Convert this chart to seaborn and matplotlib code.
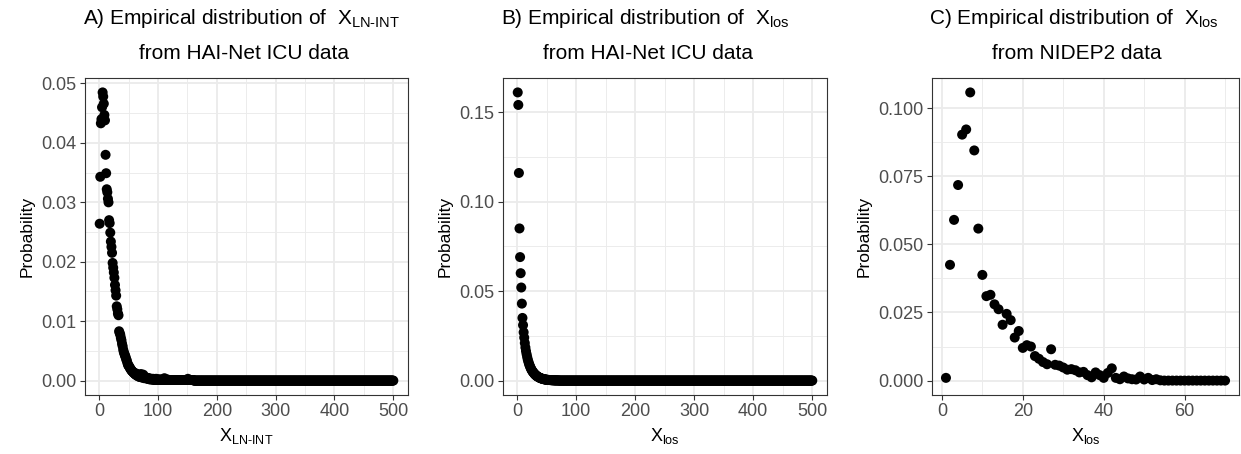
import numpy as np
import pandas as pd
import matplotlib
matplotlib.use("Agg")
import matplotlib.pyplot as plt
import seaborn as sns

# ---------------- data ----------------
# Panel A: empirical distribution of X_LN-INT (HAI-Net ICU), x = 1..500
a_head = [0.0264, 0.0343, 0.0433, 0.0440, 0.0460, 0.0485, 0.0478, 0.0466, 0.0447, 0.0438,
          0.0380, 0.0349, 0.0322, 0.0317, 0.0306, 0.0300, 0.0270, 0.0265, 0.0249, 0.0234,
          0.0225, 0.0215, 0.0198, 0.0190, 0.0182, 0.0173, 0.0161, 0.0152, 0.0143, 0.0125,
          0.0120, 0.0113, 0.0110, 0.0083, 0.0080, 0.0077, 0.0072, 0.0068, 0.0062, 0.0058,
          0.0052, 0.0048, 0.0045, 0.0042, 0.0040, 0.0036, 0.0034, 0.0030, 0.0027, 0.0025,
          0.0024, 0.0022, 0.0020, 0.0019, 0.0017, 0.0016, 0.0015, 0.0014, 0.0013, 0.0012,
          0.0011, 0.0010, 0.0012, 0.0009, 0.0008, 0.0010, 0.0007, 0.0008, 0.0006, 0.0009,
          0.0011, 0.0006, 0.0005, 0.0007, 0.0010, 0.0005, 0.0004, 0.0006, 0.0005, 0.0004,
          0.0005, 0.0003, 0.0004, 0.0003, 0.0004, 0.0002, 0.0003, 0.0002, 0.0003, 0.0002,
          0.0002, 0.0003, 0.0001, 0.0002, 0.0002, 0.0001, 0.0003, 0.0001, 0.0002, 0.0001,
          0.0001, 0.0002, 0.0001, 0.0001, 0.0002, 0.0001, 0.0001, 0.0001, 0.0001, 0.0002,
          0.0004, 0.0001, 0.0001, 0.0001, 0.0001, 0.0002, 0.0001, 0.0001, 0.0001, 0.0001,
          0.0001, 0.0001, 0.0001, 0.0001, 0.0001, 0.0001, 0.0001, 0.0001, 0.0001, 0.0001,
          0.0001, 0.0001, 0.0001, 0.0001, 0.0001, 0.0001, 0.0001, 0.0001, 0.0001, 0.0001,
          0.0001, 0.0001, 0.0001, 0.0001, 0.0001, 0.0001, 0.0001, 0.0001, 0.0001, 0.0001,
          0.0003, 0.0001, 0.0001, 0.0001, 0.0001, 0.0001, 0.0001, 0.0001, 0.0001, 0.0001]
a_tail = [0.0] * 340          # x = 161..500, all read as ~0
a_prob = a_head + a_tail

# Panel B: empirical distribution of X_los (HAI-Net ICU), x = 1..500
b_head = [0.161, 0.154, 0.116, 0.085, 0.069, 0.060, 0.052, 0.043, 0.035, 0.031,
          0.027, 0.024, 0.021, 0.0185, 0.0165, 0.0148, 0.0132, 0.0118, 0.0106, 0.0095,
          0.0086, 0.0078, 0.0070, 0.0063, 0.0057, 0.0052, 0.0047, 0.0043, 0.0039, 0.0035,
          0.0032, 0.0029, 0.0026, 0.0024, 0.0022, 0.0020, 0.0018, 0.0016, 0.0015, 0.0013,
          0.0012, 0.0011, 0.0010, 0.0009, 0.0008, 0.0007, 0.0007, 0.0006, 0.0005, 0.0005,
          0.0004, 0.0004, 0.0004, 0.0003, 0.0003, 0.0003, 0.0003, 0.0002, 0.0002, 0.0002,
          0.0002, 0.0002, 0.0001, 0.0001, 0.0001, 0.0001, 0.0001, 0.0001, 0.0001, 0.0001]
b_tail = [0.0] * 430          # x = 71..500, all read as ~0
b_prob = b_head + b_tail

# Panel C: empirical distribution of X_los (NIDEP2), x = 1..70
c_prob = [0.0010, 0.0425, 0.0590, 0.0718, 0.0903, 0.0922, 0.1058, 0.0845, 0.0558, 0.0388,
          0.0310, 0.0315, 0.0280, 0.0262, 0.0205, 0.0245, 0.0222, 0.0158, 0.0182, 0.0120,
          0.0130, 0.0125, 0.0090, 0.0080, 0.0068, 0.0060, 0.0115, 0.0058, 0.0055, 0.0048,
          0.0040, 0.0042, 0.0038, 0.0030, 0.0032, 0.0020, 0.0012, 0.0030, 0.0020, 0.0010,
          0.0028, 0.0045, 0.0010, 0.0005, 0.0015, 0.0008, 0.0005, 0.0004, 0.0015, 0.0004,
          0.0010, 0.0002, 0.0005, 0.0001, 0.0000, 0.0000, 0.0000, 0.0000, 0.0000, 0.0000,
          0.0000, 0.0000, 0.0000, 0.0000, 0.0000, 0.0000, 0.0000, 0.0000, 0.0000, 0.0000]

a_x = list(range(1, len(a_prob) + 1))
b_x = list(range(1, len(b_prob) + 1))
c_x = list(range(1, len(c_prob) + 1))

titles_line1 = [r"A) Empirical distribution of  $\mathregular{X_{LN\text{-}INT}}$",
                r"B) Empirical distribution of  $\mathregular{X_{los}}$",
                r"C) Empirical distribution of  $\mathregular{X_{los}}$"]
titles_line2 = ["from HAI-Net ICU data", "from HAI-Net ICU data", "from NIDEP2 data"]
xlabels = [r"$\mathregular{X_{LN\text{-}INT}}$", r"$\mathregular{X_{los}}$", r"$\mathregular{X_{los}}$"]

a_xticks = [0, 100, 200, 300, 400, 500]
b_xticks = [0, 100, 200, 300, 400, 500]
c_xticks = [0, 20, 40, 60]
a_yticks = [0.00, 0.01, 0.02, 0.03, 0.04, 0.05]
b_yticks = [0.00, 0.05, 0.10, 0.15]
c_yticks = [0.000, 0.025, 0.050, 0.075, 0.100]
a_ylabels = ["0.00", "0.01", "0.02", "0.03", "0.04", "0.05"]
b_ylabels = ["0.00", "0.05", "0.10", "0.15"]
c_ylabels = ["0.000", "0.025", "0.050", "0.075", "0.100"]

# ---------------- style ----------------
sns.set_theme(style="white")
plt.rcParams["font.family"] = ["Liberation Sans", "DejaVu Sans"]
plt.rcParams["mathtext.fontset"] = "custom"
plt.rcParams["mathtext.rm"] = "Liberation Sans"

W, H = 1241, 454
fig = plt.figure(figsize=(W / 100, H / 100), dpi=100)
fig.patch.set_facecolor("white")

rects = [(85, 408), (503, 827), (932, 1239)]
top_px, bot_px = 78, 395

panels = [
    (a_x, a_prob, a_xticks, a_yticks, a_ylabels),
    (b_x, b_prob, b_xticks, b_yticks, b_ylabels),
    (c_x, c_prob, c_xticks, c_yticks, c_ylabels),
]
title_centers = [(241, 244), (645, 648), (1074, 1077)]

grey20 = "#333333"
grey30 = "#4D4D4D"
grid_c = "#EBEBEB"

for i, ((l, r), (xs, ys, xt, yt, ytl)) in enumerate(zip(rects, panels)):
    ax = fig.add_axes([l / W, 1 - bot_px / H, (r - l) / W, (bot_px - top_px) / H])
    df = pd.DataFrame({"x": xs, "p": ys})
    sns.scatterplot(data=df, x="x", y="p", ax=ax, color="black", s=52,
                    linewidth=0, edgecolor="none", zorder=3)
    xmin, xmax = min(xs), max(xs)
    ymin, ymax = min(ys), max(ys)
    dx = (xmax - xmin) * 0.05
    dy = (ymax - ymin) * 0.05
    ax.set_xlim(xmin - dx, xmax + dx)
    ax.set_ylim(ymin - dy, ymax + dy)
    ax.set_xticks(xt)
    ax.set_yticks(yt)
    ax.set_yticklabels(ytl)
    xm = [(xt[k] + xt[k + 1]) / 2 for k in range(len(xt) - 1)]
    if xt[-1] + (xt[1] - xt[0]) / 2 < xmax + dx:
        xm.append(xt[-1] + (xt[1] - xt[0]) / 2)
    ym = [(yt[k] + yt[k + 1]) / 2 for k in range(len(yt) - 1)]
    if yt[-1] + (yt[1] - yt[0]) / 2 < ymax + dy:
        ym.append(yt[-1] + (yt[1] - yt[0]) / 2)
    ax.set_xticks(xm, minor=True)
    ax.set_yticks(ym, minor=True)
    ax.grid(True, which="major", color=grid_c, lw=1.3, zorder=0)
    ax.grid(True, which="minor", color=grid_c, lw=0.65, zorder=0)
    ax.set_axisbelow(True)
    ax.tick_params(which="major", direction="out", length=3.5, width=0.8,
                   color=grey20, labelcolor=grey30, labelsize=13, pad=2.5,
                   bottom=True, left=True)
    ax.tick_params(which="minor", length=0)
    for sp in ax.spines.values():
        sp.set_color(grey20)
        sp.set_linewidth(0.8)
        sp.set_visible(True)
    ax.set_xlabel(xlabels[i], fontsize=13, color="black", labelpad=4)
    ax.set_ylabel("Probability", fontsize=12.5, color="black", labelpad=5)
    c1, c2 = title_centers[i]
    fig.text(c1 / W, 1 - 24 / H, titles_line1[i], ha="center", va="baseline",
             fontsize=15, color="black")
    fig.text(c2 / W, 1 - 59 / H, titles_line2[i], ha="center", va="baseline",
             fontsize=15, color="black")

fig.savefig("out.png", dpi=100, facecolor="white")
